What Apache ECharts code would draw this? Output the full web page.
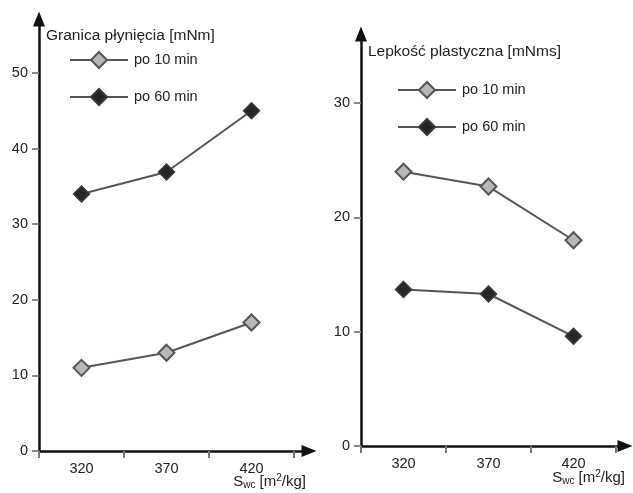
<!DOCTYPE html>
<html><head><meta charset="utf-8">
<script src="https://cdn.jsdelivr.net/npm/echarts@6/dist/echarts.min.js"></script>
<style>html,body{margin:0;padding:0;background:#fff}#c{width:633px;height:493px}</style>
</head><body><div id="c"></div>
<script>
const categories = [320, 370, 420];
const xTicks = [295, 345, 395, 445];
const leftYTicks = [0, 10, 20, 30, 40, 50];
const rightYTicks = [0, 10, 20, 30];
const leftTitle = 'Granica płynięcia [mNm]';
const rightTitle = 'Lepkość plastyczna [mNms]';
const xName = '{s|S}{sub|wc}{s| [m}{sup|2}{s|/kg]}';
const seriesNames = ['po 10 min', 'po 60 min'];
const granica10 = [11, 13, 17];
const granica60 = [34, 36.9, 45];
const lepkosc10 = [24, 22.7, 18];
const lepkosc60 = [13.7, 13.3, 9.6];

const FONT = 'Liberation Sans, Arial, sans-serif';
const TXT = '#222';
const pairs = vals => categories.map((c, i) => [c, vals[i]]);

const styles = [
  {symbol: 'diamond', symbolSize: 16, itemStyle: {color: '#b8b8b8', borderColor: '#555', borderWidth: 2}, lineStyle: {color: '#555', width: 2}},
  {symbol: 'diamond', symbolSize: 16, itemStyle: {color: '#262626', borderColor: '#3a3a3a', borderWidth: 1.5}, lineStyle: {color: '#555', width: 2}}
];
const nameRich = {
  s: {fontSize: 15, fontWeight: 'normal', fontFamily: FONT, color: TXT},
  sub: {fontSize: 10, fontWeight: 'normal', fontFamily: FONT, color: TXT, padding: [7, 0, 0, 0]},
  sup: {fontSize: 10, fontWeight: 'normal', fontFamily: FONT, color: TXT, padding: [0, 0, 7, 0]}
};

function xAxis(gi, max) {
  return {
    type: 'value', gridIndex: gi, min: 295, max: max,
    axisLine: {show: true, lineStyle: {color: '#111', width: 2.5}, symbol: ['none', 'triangle'], symbolSize: [12, 15]},
    axisTick: {show: true, length: 7, lineStyle: {color: '#777', width: 2}, customValues: xTicks},
    axisLabel: {customValues: categories, color: TXT, fontSize: 14.5, fontFamily: FONT, margin: 10},
    splitLine: {show: false}
  };
}
function yAxis(gi, max, ticks) {
  return {
    type: 'value', gridIndex: gi, min: 0, max: max,
    axisLine: {show: true, lineStyle: {color: '#111', width: 2.5}, symbol: ['none', 'triangle'], symbolSize: [12, 15]},
    axisTick: {show: true, length: 7, lineStyle: {color: '#888', width: 2}, customValues: ticks},
    axisLabel: {customValues: ticks, color: TXT, fontSize: 14.5, fontFamily: FONT, margin: 11},
    splitLine: {show: false}
  };
}
function series(name, gi, vals, st) {
  return Object.assign({
    type: 'line', name: name, xAxisIndex: gi, yAxisIndex: gi, data: pairs(vals), z: 3
  }, st);
}
function legend(left, top) {
  return {
    data: seriesNames, orient: 'vertical', left: left, top: top, padding: 0,
    itemWidth: 58, itemHeight: 20, itemGap: 19,
    textStyle: {color: TXT, fontSize: 14.5, fontFamily: FONT, padding: [0, 0, 0, 1]}
  };
}
const titleStyle = {fontSize: 15.5, fontWeight: 'normal', color: TXT, fontFamily: FONT};

const chart = echarts.init(document.getElementById('c'));
chart.setOption({
  animation: false,
  backgroundColor: '#fff',
  title: [
    {text: leftTitle, left: 46, top: 28, padding: 0, textStyle: titleStyle},
    {text: rightTitle, left: 368, top: 44, padding: 0, textStyle: titleStyle},
    {text: xName, right: 327, top: 473, padding: 0, textStyle: {fontWeight: 'normal', rich: nameRich}},
    {text: xName, right: 8, top: 469, padding: 0, textStyle: {fontWeight: 'normal', rich: nameRich}}
  ],
  legend: [legend(69, 51), legend(397, 81)],
  grid: [
    {left: 39, top: 19, width: 270, height: 432, outerBoundsMode: 'none', containLabel: false},
    {left: 361, top: 34, width: 264, height: 412, outerBoundsMode: 'none', containLabel: false}
  ],
  xAxis: [xAxis(0, 295 + 270 / 1.7), xAxis(1, 295 + 264 / 1.7)],
  yAxis: [yAxis(0, 432 / 7.56, leftYTicks), yAxis(1, 412 / 11.43, rightYTicks)],
  series: [
    series(seriesNames[0], 0, granica10, styles[0]),
    series(seriesNames[1], 0, granica60, styles[1]),
    series(seriesNames[0], 1, lepkosc10, styles[0]),
    series(seriesNames[1], 1, lepkosc60, styles[1])
  ]
});
</script></body></html>
